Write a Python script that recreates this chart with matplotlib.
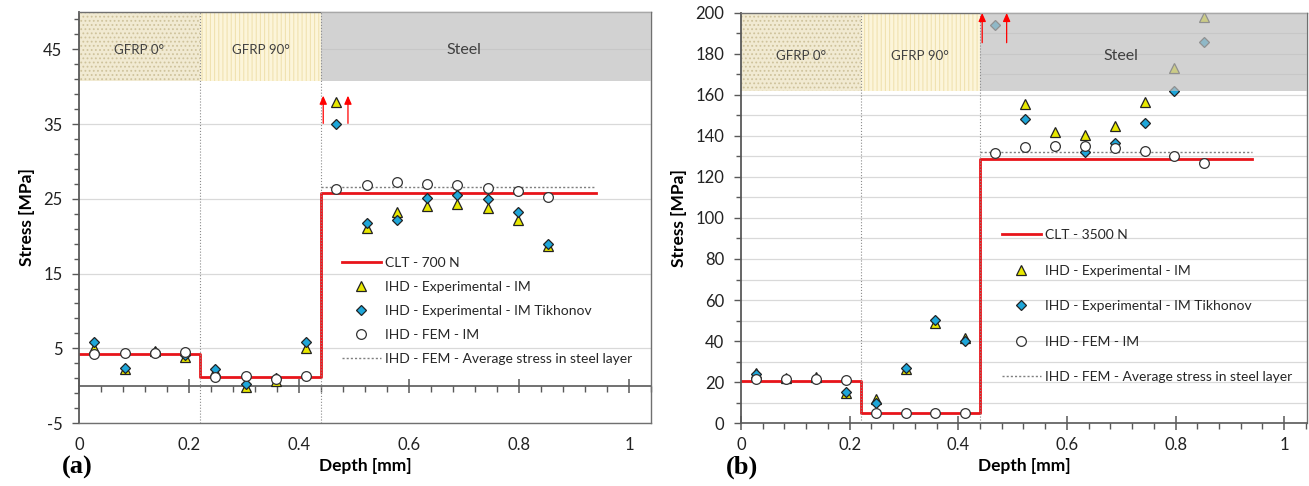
""" stress vs depth in GFRP/steel laminate, 700 N and 3500 N """

import matplotlib.pyplot as plt
import numpy as np
from matplotlib.patches import Rectangle
from matplotlib.ticker import MultipleLocator

plt.rcParams["font.family"] = ["Lato", "DejaVu Sans"]
plt.rcParams["hatch.linewidth"] = 0.8
plt.rcParams["axes.unicode_minus"] = False

# measurement depths [mm]
depth = [0.028, 0.083, 0.138, 0.193, 0.248, 0.303, 0.358, 0.413,
         0.468, 0.523, 0.578, 0.633, 0.688, 0.743, 0.798, 0.853]

# (a) 700 N
im_a = [5.0, 2.2, 4.6, 3.9, 2.0, -0.2, 0.6, 5.0,
        38.0, 21.1, 23.2, 24.0, 24.3, 23.8, 22.2, 18.7]
tik_a = [5.8, 2.3, 4.5, 4.1, 2.2, 0.2, 1.0, 5.8,
         35.0, 21.8, 22.2, 25.1, 25.5, 25.0, 23.2, 18.9]
fem_a = [4.3, 4.4, 4.4, 4.5, 1.2, 1.3, 0.9, 1.3,
         26.3, 26.9, 27.2, 27.0, 26.8, 26.5, 26.1, 25.2]
clt_a = [4.2, 1.1, 25.8, 25.8]
avg_a = 26.6

# (b) 3500 N
im_b = [24.5, 22.0, 22.6, 14.5, 11.5, 26.5, 49.0, 41.5,
        np.nan, 155.5, 141.8, 140.3, 145.0, 156.4, 173.3, 197.9]
tik_b = [23.9, 21.5, 21.5, 15.0, 9.9, 26.7, 50.2, 40.2,
         194.0, 148.3, 135.1, 132.0, 136.4, 146.2, 162.1, 185.7]
fem_b = [21.3, 21.3, 21.3, 21.0, 5.0, 5.0, 5.0, 4.8,
         131.5, 134.8, 135.3, 135.3, 134.3, 132.7, 130.2, 126.7]
clt_b = [20.6, 4.8, 128.6, 128.6]
avg_b = 132.3

# layer boundaries / CLT steps
clt_x = [0, 0.22, 0.44, 0.94]
layer_names = ["GFRP 0°", "GFRP 90°", "Steel"]

# off-scale arrows (x, y start, y end)
arrows_a = [(0.444, 35.1, 38.8), (0.489, 35.1, 38.8)]
arrows_b = [(0.444, 185.5, 200.0), (0.489, 185.5, 200.0)]

AX_COL = "#595959"
GRID_COL = "#d9d9d9"


def draw_panel(ax, im, tik, fem, clt, avg, ylim, band_lo, xmax, arrows,
               label, legend_pos, spacing):
    """one stress-depth panel"""
    ax.set_xlim(0, xmax)
    ax.set_ylim(*ylim)
    top = ylim[1]

    # header band with layer names
    ax.add_patch(Rectangle((0, band_lo), 0.22, top - band_lo, facecolor="#f1ead2",
                           edgecolor="#cfc39c", hatch="....", lw=0, zorder=1.5))
    ax.add_patch(Rectangle((0.22, band_lo), 0.22, top - band_lo, facecolor="#fcf5da",
                           edgecolor="#f0e2b0", hatch="||||", lw=0, zorder=1.5))
    ax.add_patch(Rectangle((0.44, band_lo), xmax - 0.44, top - band_lo,
                           facecolor="#c0c0c0", alpha=0.7, lw=0, zorder=3.5))
    mid = band_lo + (top - band_lo) * 0.45
    for xc, name in zip([0.11, 0.33, 0.70], layer_names):
        ax.text(xc, mid, name, ha="center", va="center",
                fontsize=9.5 if name != "Steel" else 11.5,
                color="#404040", zorder=6)

    for xv in clt_x[1:3]:
        ax.axvline(xv, color="#8c8c8c", ls=":", lw=0.8, zorder=4)

    ax.step(clt_x, clt, where="post", color="#e8141a", lw=2, zorder=2.5,
            label=label)
    ax.plot(depth, im, ls="none", marker="^", ms=7.5, mfc="#e8e800",
            mec="#222222", mew=0.9, zorder=3, label="IHD - Experimental - IM")
    ax.plot(depth, tik, ls="none", marker="D", ms=5.5, mfc="#1ea6d9",
            mec="#222222", mew=0.9, zorder=3.1,
            label="IHD - Experimental - IM Tikhonov")
    ax.plot(depth, fem, ls="none", marker="o", ms=7, mfc="white",
            mec="#333333", mew=0.9, zorder=3.2, label="IHD - FEM - IM")
    ax.plot([0.44, 0.94], [avg, avg], color="#7f7f7f", ls=(0, (1.5, 1.5)), lw=1,
            zorder=2.4, label="IHD - FEM - Average stress in steel layer")

    for xa, y0, y1 in arrows:
        ax.annotate("", xy=(xa, y1), xytext=(xa, y0), zorder=7,
                    arrowprops=dict(arrowstyle="-|>,head_length=0.5,head_width=0.22",
                                    color="#ff0000", lw=0.9, shrinkA=0, shrinkB=0))

    for side in ["top", "right", "bottom"]:
        ax.spines[side].set_color("#707070")
        ax.spines[side].set_linewidth(1)
    ax.spines["left"].set_color(AX_COL)
    ax.spines["left"].set_linewidth(1.3)
    ax.set_axisbelow(True)

    ax.xaxis.set_major_locator(MultipleLocator(0.2))
    ax.xaxis.set_minor_locator(MultipleLocator(0.04))
    ax.xaxis.set_major_formatter(plt.FuncFormatter(lambda v, p: f"{v:g}"))
    ax.tick_params(axis="y", which="major", direction="out", length=5,
                   width=1, color=AX_COL, labelsize=12, pad=7,
                   labelcolor="#222222")
    ax.tick_params(axis="y", which="minor", direction="out", length=3.5,
                   width=1, color=AX_COL)

    leg = ax.legend(loc="upper left", bbox_to_anchor=legend_pos,
                    bbox_transform=ax.figure.transFigure, frameon=False,
                    fontsize=10, handlelength=2.8, handletextpad=0.3,
                    labelspacing=spacing, borderpad=0, borderaxespad=0,
                    numpoints=1)
    for t in leg.get_texts():
        t.set_color("#262626")
    ax.set_xlabel("Depth [mm]", fontsize=12.5, fontweight="bold", labelpad=4)
    ax.set_ylabel("Stress [MPa]", fontsize=12.5, fontweight="bold", labelpad=6)


fig = plt.figure(figsize=(13.09, 4.86), dpi=100)
ax_a = fig.add_axes([0.0604, 0.1296, 0.4369, 0.8457])
ax_b = fig.add_axes([0.5661, 0.1296, 0.4324, 0.8437])

# panel (a)
draw_panel(ax_a, im_a, tik_a, fem_a, clt_a, avg_a, (-5, 50), 40.8, 1.04,
           arrows_a, "CLT - 700 N", (0.2613, 0.4720), 0.87)
ax_a.yaxis.set_major_locator(MultipleLocator(10, offset=5))
ax_a.yaxis.set_minor_locator(MultipleLocator(2, offset=1))
ax_a.grid(axis="y", which="major", color=GRID_COL, lw=0.9)
ax_a.tick_params(axis="x", which="both", length=0, labelsize=12, pad=10,
                 labelcolor="#222222")
sec = ax_a.secondary_xaxis(0, transform=ax_a.transData)
sec.spines["bottom"].set_color(AX_COL)
sec.spines["bottom"].set_linewidth(1.2)
sec.xaxis.set_major_locator(MultipleLocator(0.2))
sec.xaxis.set_minor_locator(MultipleLocator(0.04))
sec.tick_params(axis="x", which="major", direction="inout", length=10,
                width=1.1, color=AX_COL, labelbottom=False)
sec.tick_params(axis="x", which="minor", direction="out", length=4,
                width=1, color=AX_COL)

# panel (b)
draw_panel(ax_b, im_b, tik_b, fem_b, clt_b, avg_b, (0, 200), 162, 1.042,
           arrows_b, "CLT - 3500 N", (0.7655, 0.5290), 1.70)
ax_b.yaxis.set_major_locator(MultipleLocator(20))
ax_b.yaxis.set_minor_locator(MultipleLocator(10))
ax_b.grid(axis="y", which="both", color=GRID_COL, lw=0.9)
ax_b.spines["bottom"].set_color(AX_COL)
ax_b.spines["bottom"].set_linewidth(1.2)
ax_b.tick_params(axis="x", which="major", direction="inout", length=10,
                 width=1.1, color=AX_COL, labelsize=12, pad=5,
                 labelcolor="#222222")
ax_b.tick_params(axis="x", which="minor", direction="out", length=4,
                 width=1, color=AX_COL)

fig.text(0.0475, 0.038, "(a)", fontsize=19, fontweight="bold",
         family="Liberation Serif", ha="left", va="center")
fig.text(0.5545, 0.038, "(b)", fontsize=19, fontweight="bold",
         family="Liberation Serif", ha="left", va="center")

fig.savefig("out.png", dpi=100)
